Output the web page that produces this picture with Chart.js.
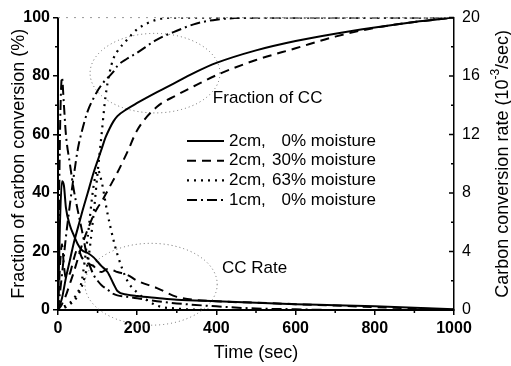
<!DOCTYPE html>
<html>
<head>
<meta charset="utf-8">
<script src="https://cdn.jsdelivr.net/npm/chart.js@4.4.1/dist/chart.umd.min.js"></script>
<style>
  html, body { margin: 0; padding: 0; background: #fff; }
  #wrap { width: 511px; height: 366px; position: relative; }
</style>
</head>
<body>
<div id="wrap"><canvas id="ccChart"></canvas></div>
<script>
/* ------------------------------
   Data
------------------------------ */

// fraction of carbon conversion (%), left axis
const fracTime   = [0, 10, 20, 30, 40, 50, 60, 75, 90, 100, 110, 120, 130, 140, 150, 175, 200, 250, 300, 350, 400, 500, 600, 700, 800, 900, 1000];
const fracSolid  = [0, 4, 11, 17, 23, 28, 33, 40, 47, 51, 55, 59, 62, 64.5, 66.3, 68.8, 70.8, 74.5, 78, 81.5, 84.5, 88.8, 92, 94.5, 96.6, 98.5, 100];
const fracDashed = [0, 2, 5, 9, 13, 17.5, 22, 27.5, 32.5, 35, 37, 39.5, 42, 44.5, 47, 54, 61.5, 69.5, 73.5, 77, 80.3, 85.5, 89.5, 93.5, 96.5, 98.5, 100];
const fracDotted = [0, 0.5, 1, 2, 3, 5, 8, 16, 33, 47, 60, 73, 81, 86, 88.5, 92.5, 96, 99.3, 100, 100, 100, 100, 100, 100, 100, 100, 100];
const fracDashDot = [0, 12, 25, 36, 46, 55, 61, 68, 72.5, 75, 77, 78.7, 80, 81.5, 83.5, 86, 88, 92.5, 95.5, 98, 99.3, 100, 100, 100, 100, 100, 100];

// carbon conversion rate (10^-3 /sec), right axis
const rateTime    = [0, 5, 10, 15, 20, 30, 40, 50, 60, 75, 90, 100, 110, 125, 140, 150, 175, 200, 250, 300, 400, 500, 600, 700, 800, 900, 1000];
const rateSolid   = [0, 6, 8.8, 8.5, 7, 5.8, 5.1, 4.5, 4.1, 3.9, 3.6, 3.3, 3.0, 2.6, 1.8, 1.3, 1.05, 0.95, 0.82, 0.7, 0.6, 0.5, 0.4, 0.33, 0.25, 0.15, 0.05];
const rateDashed  = [0, 3, 4.5, 3, 2.2, 2.5, 3.5, 4.2, 3.6, 3.2, 3.0, 2.7, 2.6, 2.8, 2.7, 2.6, 2.4, 2.0, 1.5, 0.9, 0.6, 0.5, 0.4, 0.3, 0.2, 0.1, 0.05];
const rateDotted  = [0, 0.1, 0.2, 0.25, 0.3, 0.5, 0.8, 1.2, 2, 5, 8.5, 9.6, 8.8, 6.6, 4.8, 3.8, 2, 1.2, 0.3, 0.1, 0, 0, 0, 0, 0, 0, 0];
const rateDashDot = [0, 12, 15.9, 14, 12, 10, 8.2, 6.8, 5.5, 3.5, 2.4, 2.0, 1.7, 1.4, 1.1, 1.0, 0.9, 0.8, 0.6, 0.45, 0.25, 0.1, 0.05, 0, 0, 0, 0];

// legend text
const legendSize     = ['2cm,', '2cm,', '2cm,', '1cm,'];
const legendMoisture = ['0% moisture', '30% moisture', '63% moisture', '0% moisture'];

// axis ticks
const fracTicks = [0, 20, 40, 60, 80, 100];
const rateTicks = [0, 4, 8, 12, 16, 20];
const timeTicks = [0, 200, 400, 600, 800, 1000];

// dotted ellipses + their labels (data units: time, %)
const ellipseNotes = [
  { text: 'Fraction of CC', cx: 245, cy: 81, rx: 164, ry: 13.6, tx: 391, ty: 72.4 },
  { text: 'CC Rate',        cx: 235, cy: 8.8, rx: 167, ry: 14,  tx: 414, ty: 14.3 }
];

/* ------------------------------
   Styles
------------------------------ */

const FONT = "'Liberation Sans', Arial, sans-serif";
const lineStyles = [
  { borderDash: [],            borderWidth: 2 },
  { borderDash: [9, 6],        borderWidth: 2 },
  { borderDash: [2, 5],        borderWidth: 2.2 },
  { borderDash: [10, 4, 2, 4], borderWidth: 2 }
];

function pts(xs, ys) {
  return xs.map((x, i) => ({ x, y: ys[i] }));
}

function makeSet(label, data, styleIdx, axis) {
  return {
    label,
    data,
    yAxisID: axis,
    borderColor: '#000',
    backgroundColor: '#000',
    pointRadius: 0,
    cubicInterpolationMode: 'monotone',
    fill: false,
    ...lineStyles[styleIdx]
  };
}

const datasets = [
  makeSet('frac 2cm 0%',  pts(fracTime, fracSolid), 0, 'y'),
  makeSet('frac 2cm 30%', pts(fracTime, fracDashed), 1, 'y'),
  makeSet('frac 2cm 63%', pts(fracTime, fracDotted), 2, 'y'),
  makeSet('frac 1cm 0%',  pts(fracTime, fracDashDot), 3, 'y'),
  makeSet('rate 2cm 0%',  pts(rateTime, rateSolid), 0, 'y2'),
  makeSet('rate 2cm 30%', pts(rateTime, rateDashed), 1, 'y2'),
  makeSet('rate 2cm 63%', pts(rateTime, rateDotted), 2, 'y2'),
  makeSet('rate 1cm 0%',  pts(rateTime, rateDashDot), 3, 'y2')
];

/* ------------------------------
   Extra drawing: frame, minor ticks,
   legend, notes, right title
------------------------------ */

const decor = {
  id: 'decor',
  beforeDatasetsDraw(chart) {
    const { ctx, scales: { x, y } } = chart;
    ctx.save();
    ctx.strokeStyle = '#666';
    ctx.lineWidth = 1;
    ctx.setLineDash([1, 3]);
    ellipseNotes.forEach(e => {
      const cx = x.getPixelForValue(e.cx), cy = y.getPixelForValue(e.cy);
      const rx = x.getPixelForValue(e.cx + e.rx) - cx;
      const ry = cy - y.getPixelForValue(e.cy + e.ry);
      ctx.beginPath();
      ctx.ellipse(cx, cy, rx, ry, 0, 0, Math.PI * 2);
      ctx.stroke();
    });
    ctx.restore();
  },
  afterDraw(chart) {
    const { ctx, chartArea: a, scales: { x, y, y2 } } = chart;
    ctx.save();

    // faint dotted top frame
    ctx.strokeStyle = '#999';
    ctx.lineWidth = 1;
    ctx.setLineDash([2, 6]);
    ctx.beginPath();
    ctx.moveTo(a.left, a.top);
    ctx.lineTo(a.right, a.top);
    ctx.stroke();
    ctx.setLineDash([]);

    // minor ticks
    ctx.strokeStyle = '#000';
    ctx.lineWidth = 1.5;
    ctx.beginPath();
    for (let v = 10; v < 100; v += 20) {
      const p = y.getPixelForValue(v);
      ctx.moveTo(a.left - 3, p); ctx.lineTo(a.left, p);
    }
    for (let v = 100; v < 1000; v += 200) {
      const p = x.getPixelForValue(v);
      ctx.moveTo(p, a.bottom); ctx.lineTo(p, a.bottom + 3);
    }
    // right axis: ticks point inward
    rateTicks.forEach(v => {
      const p = y2.getPixelForValue(v);
      ctx.moveTo(a.right - 5, p); ctx.lineTo(a.right, p);
    });
    for (let v = 2; v < 20; v += 4) {
      const p = y2.getPixelForValue(v);
      ctx.moveTo(a.right - 3, p); ctx.lineTo(a.right, p);
    }
    ctx.stroke();

    // legend
    ctx.fillStyle = '#000';
    ctx.font = '17px ' + FONT;
    ctx.textBaseline = 'middle';
    legendSize.forEach((s, i) => {
      const yy = 141 + i * 19.7;
      const st = lineStyles[i];
      ctx.lineWidth = st.borderWidth;
      ctx.setLineDash(st.borderDash);
      ctx.beginPath();
      ctx.moveTo(187, yy); ctx.lineTo(224, yy);
      ctx.stroke();
      ctx.setLineDash([]);
      ctx.textAlign = 'left';
      ctx.fillText(s, 229, yy);
      ctx.textAlign = 'right';
      ctx.fillText(legendMoisture[i], 376, yy);
    });

    // notes
    ctx.textAlign = 'left';
    ellipseNotes.forEach(e => {
      ctx.fillText(e.text, x.getPixelForValue(e.tx), y.getPixelForValue(e.ty));
    });

    // right axis title, reading bottom to top
    ctx.translate(503, (a.top + a.bottom) / 2);
    ctx.rotate(-Math.PI / 2);
    const big = '18px ' + FONT, small = '12px ' + FONT;
    const parts = [['Carbon conversion rate (10', big, 0], ['-3', small, -7], ['/sec)', big, 0]];
    let w = 0;
    parts.forEach(p => { ctx.font = p[1]; w += ctx.measureText(p[0]).width; });
    let cx = -w / 2;
    ctx.textAlign = 'left';
    parts.forEach(p => {
      ctx.font = p[1];
      ctx.fillText(p[0], cx, p[2]);
      cx += ctx.measureText(p[0]).width;
    });
    ctx.restore();
  }
};

/* ------------------------------
   Chart
------------------------------ */

const tickFont = { family: FONT, size: 16, weight: 'bold' };
const plain = v => String(v);

new Chart(document.getElementById('ccChart'), {
  type: 'line',
  data: { datasets },
  options: {
    responsive: true,
    maintainAspectRatio: false,
    animation: false,
    layout: { padding: { top: 16, left: 0, right: 0, bottom: 0 } },
    plugins: {
      legend: { display: false },
      tooltip: { enabled: false }
    },
    scales: {
      x: {
        type: 'linear',
        min: 0, max: 1000,
        afterFit: s => { s.height = 56; },
        afterBuildTicks: s => { s.ticks = timeTicks.map(v => ({ value: v })); },
        ticks: { color: '#000', font: tickFont, padding: 4, maxRotation: 0, callback: plain },
        grid: { drawOnChartArea: false, tickLength: 5, color: '#000', lineWidth: 1.5 },
        border: { color: '#000', width: 2 },
        title: { display: true, text: 'Time (sec)', color: '#000', font: { family: FONT, size: 18 }, padding: { top: 0, bottom: 2 } }
      },
      y: {
        position: 'left',
        min: 0, max: 100,
        afterFit: s => { s.width = 58; },
        afterBuildTicks: s => { s.ticks = fracTicks.map(v => ({ value: v })); },
        ticks: { color: '#000', font: tickFont, padding: 3, callback: plain },
        grid: { drawOnChartArea: false, tickLength: 5, color: '#000', lineWidth: 1.5 },
        border: { color: '#000', width: 2 },
        title: { display: true, text: 'Fraction of carbon conversion (%)', color: '#000', font: { family: FONT, size: 18 }, padding: { top: 8, bottom: 0 } }
      },
      y2: {
        position: 'right',
        min: 0, max: 20,
        afterFit: s => { s.width = 57; },
        afterBuildTicks: s => { s.ticks = rateTicks.map(v => ({ value: v })); },
        ticks: { color: '#000', font: { family: FONT, size: 16 }, padding: 8, callback: plain },
        grid: { drawOnChartArea: false, drawTicks: false },
        border: { color: '#000', width: 1.5 }
      }
    }
  },
  plugins: [decor]
});
</script>
</body>
</html>
